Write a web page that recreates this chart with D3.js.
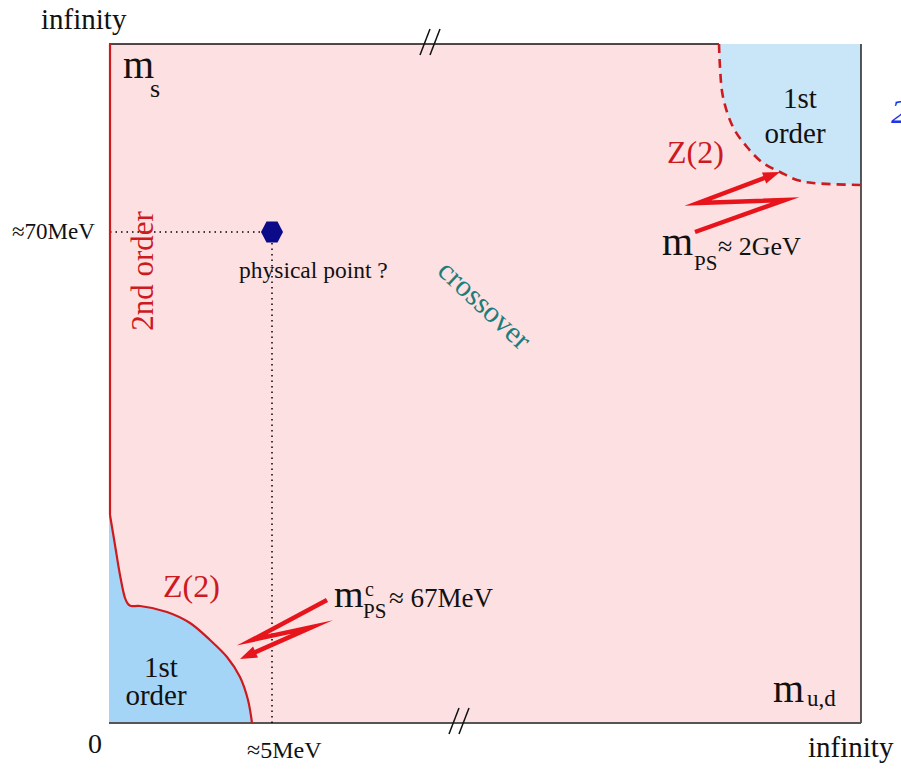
<!DOCTYPE html>
<html>
<head>
<meta charset="utf-8">
<script src="https://cdn.jsdelivr.net/npm/d3@7"></script>
<style>
body { margin: 0; background: #fff; }
text { font-family: "Liberation Serif", "DejaVu Serif", serif; }
</style>
</head>
<body>
<script>
var width = 901
var height = 772

// schematic units: x = m_u,d , y = m_s (0 .. "infinity")
var xDomain = [0, 752]
var yDomain = [0, 679]

// 2nd order line along m_u,d = 0
var secondOrderLine = [[1, 679], [1, 208]]
// Z(2) line bounding the light-quark 1st order region
var z2Low = [[1, 208], [6, 178], [11, 148], [16, 125], [19, 119], [22, 117], [31, 117], [58, 111], [81, 100], [101, 83], [118, 66], [131, 46], [139, 23], [143, 0]]
// Z(2) line bounding the heavy-quark 1st order region (dashed)
var z2High = [[610, 679], [611, 656], [614, 626], [624, 596], [638, 576], [654, 560], [671, 551], [688, 543], [704, 540], [752, 538]]

var physicalPoint = [163, 491]
var tickLabelsX = [{ v: 0, t: '0' }, { v: 163, t: '≈5MeV' }]
var tickLabelsY = [{ v: 491, t: '≈70MeV' }]

// lightning arrows pointing at the critical lines
var boltHigh = [[586, 491], [676, 523], [589, 520], [671, 551]]
var boltLow = [[218, 123], [143, 83], [203, 96], [131, 64]]

var pink = '#fde0e1'
var blueLow = '#a5d5f6'
var blueHigh = '#c9e6f8'
var lineRed = '#cc1a1f'
var boltRed = '#e8141c'

var margin = { left: 109, right: 40, top: 44, bottom: 49 }
var innerWidth = width - margin.left - margin.right
var innerHeight = height - margin.top - margin.bottom

var x = d3.scaleLinear().domain(xDomain).range([margin.left, margin.left + innerWidth])
var y = d3.scaleLinear().domain(yDomain).range([margin.top + innerHeight, margin.top])

var svg = d3.select('body').append('svg').attr('width', width).attr('height', height)

// background crossover region
svg.append('rect')
    .attr('x', x(0)).attr('y', y(yDomain[1]))
    .attr('width', x(xDomain[1]) - x(0)).attr('height', y(0) - y(yDomain[1]))
    .attr('fill', pink)

var curve = d3.line().x(d => x(d[0])).y(d => y(d[1])).curve(d3.curveCatmullRom.alpha(0.5))
var straight = d3.line().x(d => x(d[0])).y(d => y(d[1]))

// 1st order regions
svg.append('path')
    .attr('d', curve(z2Low) + 'L' + x(0) + ',' + y(0) + 'L' + x(0) + ',' + y(z2Low[0][1]) + 'Z')
    .attr('fill', blueLow)
svg.append('path')
    .attr('d', curve(z2High) + 'L' + x(xDomain[1]) + ',' + y(yDomain[1]) + 'Z')
    .attr('fill', blueHigh)

// frame
svg.append('line').attr('x1', x(0)).attr('x2', x(z2High[0][0])).attr('y1', y(yDomain[1])).attr('y2', y(yDomain[1]))
    .attr('stroke', '#111').attr('stroke-width', 1.5)
svg.append('line').attr('x1', x(xDomain[1])).attr('x2', x(xDomain[1])).attr('y1', y(yDomain[1])).attr('y2', y(0))
    .attr('stroke', '#222').attr('stroke-width', 1.5)
svg.append('line').attr('x1', x(0)).attr('x2', x(xDomain[1])).attr('y1', y(0)).attr('y2', y(0))
    .attr('stroke', '#555').attr('stroke-width', 2)

// dotted guides to the physical point
svg.append('line').attr('x1', x(1)).attr('x2', x(physicalPoint[0])).attr('y1', y(physicalPoint[1])).attr('y2', y(physicalPoint[1]))
    .attr('stroke', '#000').attr('stroke-width', 1.5).attr('stroke-dasharray', '1.5,4')
svg.append('line').attr('x1', x(physicalPoint[0])).attr('x2', x(physicalPoint[0])).attr('y1', y(physicalPoint[1])).attr('y2', y(0))
    .attr('stroke', '#000').attr('stroke-width', 1.5).attr('stroke-dasharray', '1.5,4')

// critical lines
svg.append('path').attr('d', straight(secondOrderLine)).attr('fill', 'none').attr('stroke', lineRed).attr('stroke-width', 2.2)
svg.append('path').attr('d', curve(z2Low)).attr('fill', 'none').attr('stroke', lineRed).attr('stroke-width', 2.2)
svg.append('path').attr('d', curve(z2High)).attr('fill', 'none').attr('stroke', lineRed).attr('stroke-width', 2.6)
    .attr('stroke-dasharray', '9,6')

// physical point hexagon
var hx = x(physicalPoint[0]), hy = y(physicalPoint[1])
var hex = d3.range(6).map(i => [hx + 11 * Math.cos(i * Math.PI / 3), hy + 12 * Math.sin(i * Math.PI / 3)])
svg.append('polygon').attr('points', hex.map(p => p.join(',')).join(' ')).attr('fill', '#0b0b8a')

// lightning arrows
function bolt(pts) {
    var p = pts.map(d => [x(d[0]), y(d[1])])
    var tip = p[p.length - 1], prev = p[p.length - 2]
    var dx = tip[0] - prev[0], dy = tip[1] - prev[1]
    var len = Math.sqrt(dx * dx + dy * dy)
    var ux = dx / len, uy = dy / len
    var headLen = 17, headW = 6
    var base = [tip[0] - ux * headLen, tip[1] - uy * headLen]
    var body = p.slice(0, -1).concat([[tip[0] - ux * (headLen - 3), tip[1] - uy * (headLen - 3)]])
    svg.append('path').attr('d', d3.line()(body)).attr('fill', 'none')
        .attr('stroke', boltRed).attr('stroke-width', 4.5).attr('stroke-linejoin', 'miter').attr('stroke-miterlimit', 20)
    svg.append('polygon')
        .attr('points', [tip, [base[0] - uy * headW, base[1] + ux * headW], [base[0] + uy * headW, base[1] - ux * headW]].map(q => q.join(',')).join(' '))
        .attr('fill', boltRed)
}
bolt(boltHigh)
bolt(boltLow)

// break marks on the top and bottom edges
function breakMark(cx, cy) {
    [-5, 5].forEach(off => {
        svg.append('line')
            .attr('x1', cx + off - 5).attr('y1', cy + 13)
            .attr('x2', cx + off + 5).attr('y2', cy - 13)
            .attr('stroke', '#111').attr('stroke-width', 1.5)
    })
}
breakMark(x(321), y(yDomain[1]) - 2)
breakMark(x(350), y(0) - 2)

function label(t, px, py, size, opts) {
    opts = opts || {}
    var el = svg.append('text').attr('x', px).attr('y', py).text(t)
        .attr('font-size', size).attr('fill', opts.fill || '#111')
        .attr('text-anchor', opts.anchor || 'start')
    if (opts.rotate) el.attr('transform', `rotate(${opts.rotate},${px},${py})`)
    if (opts.italic) el.attr('font-style', 'italic')
    return el
}

// axis end labels
label('infinity', 41, 29, 29)
label('infinity', 808, 757, 29)
tickLabelsX.forEach(d => {
    if (d.v === 0) label(d.t, x(d.v) - 21, 753, 28)
    else label(d.t, x(d.v) - 25, 758, 24)
})
tickLabelsY.forEach(d => label(d.t, 12, y(d.v) + 7, 23))

// axis names
label('m', 123, 78, 40)
label('s', 150, 97, 26)
label('m', 773, 702, 40)
label('u,d', 807, 706, 23)

// region names
label('2nd order', 153, 271, 31, { fill: lineRed, anchor: 'middle', rotate: -90 })
label('physical point ?', 239, 278, 23.5)
label('crossover', 478, 312, 30, { fill: '#1d7d7d', anchor: 'middle', rotate: 43 })
label('1st', 800, 108, 29, { anchor: 'middle' })
label('order', 795, 143, 29, { anchor: 'middle' })
label('1st', 161, 677, 29, { anchor: 'middle' })
label('order', 156, 705, 29, { anchor: 'middle' })
label('Z(2)', 667, 163, 32, { fill: lineRed })
label('Z(2)', 163, 597, 32, { fill: lineRed })

// pseudo-scalar masses
label('m', 662, 255, 40)
label('PS', 694, 270, 21)
label('≈ 2GeV', 718, 255, 26)
label('m', 334, 607, 38)
label('c', 365, 596, 20)
label('PS', 363, 618, 21)
label('≈ 67MeV', 389, 607, 27)

// clipped label at the right edge
label('2', 891, 123, 34, { fill: '#2233ee', italic: true }).attr('font-family', 'DejaVu Sans').attr('font-weight', 300)
</script>
</body>
</html>
